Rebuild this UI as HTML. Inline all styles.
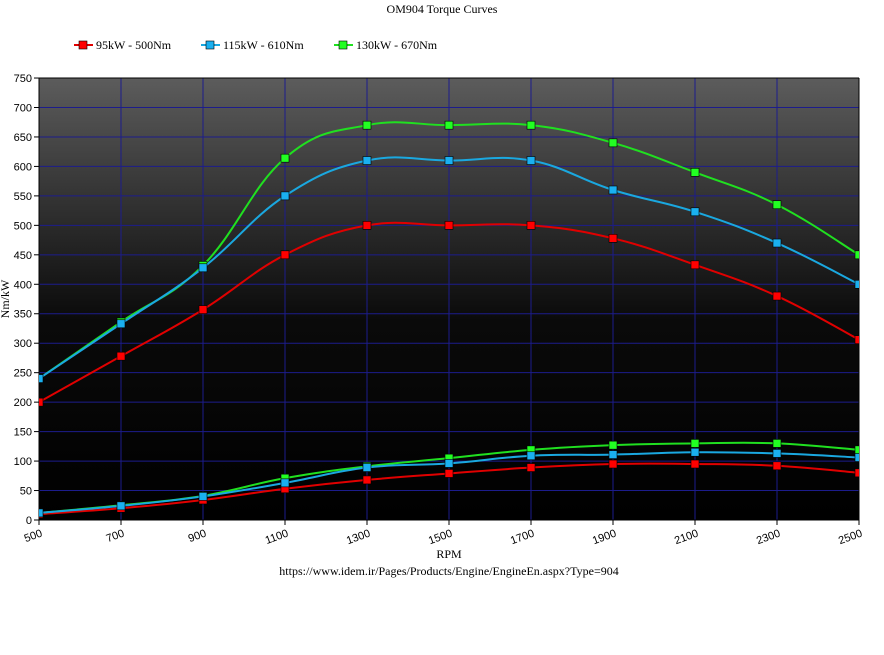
<!DOCTYPE html>
<html><head><meta charset="utf-8"><style>
body{margin:0;background:#fff;width:884px;height:650px;overflow:hidden}
text{font-family:"Liberation Sans","DejaVu Sans",sans-serif;font-size:11px;fill:#000}
.s{font-family:"Liberation Serif",serif;font-size:12px}
</style></head><body>
<svg id="c" width="884" height="650" xmlns="http://www.w3.org/2000/svg">
<defs><linearGradient id="g" x1="0" y1="0" x2="0" y2="1">
<stop offset="0" stop-color="#5c5c5c"/><stop offset="0.55" stop-color="#0a0a0a"/><stop offset="1" stop-color="#000"/></linearGradient>
<clipPath id="cp"><rect x="39" y="78" width="820" height="442"/></clipPath></defs>
<text class="s" x="442" y="13" text-anchor="middle">OM904 Torque Curves</text>
<g class="s">
<line x1="74" y1="45" x2="93" y2="45" stroke="#e00000" stroke-width="2"/><rect x="79" y="41" width="8" height="8" fill="#f00" stroke="#000" stroke-width="0.6"/><text class="s" x="96" y="49">95kW - 500Nm</text>
<line x1="201" y1="45" x2="220" y2="45" stroke="#1aa8e0" stroke-width="2"/><rect x="206" y="41" width="8" height="8" fill="#1ab0f0" stroke="#000" stroke-width="0.6"/><text class="s" x="223" y="49">115kW - 610Nm</text>
<line x1="334" y1="45" x2="353" y2="45" stroke="#20e020" stroke-width="2"/><rect x="339" y="41" width="8" height="8" fill="#2f2" stroke="#000" stroke-width="0.6"/><text class="s" x="356" y="49">130kW - 670Nm</text>
</g>
<rect x="39" y="78" width="820" height="442" fill="url(#g)"/>
<g id="grid"></g>
<g id="series" clip-path="url(#cp)"></g>
<text class="s" x="449" y="558" text-anchor="middle">RPM</text>
<text class="s" x="449" y="575" text-anchor="middle">https://www.idem.ir/Pages/Products/Engine/EngineEn.aspx?Type=904</text>
<text class="s" transform="translate(9,299) rotate(-90)" text-anchor="middle">Nm/kW</text>
</svg>
<script>
const X=r=>39+(r-500)*0.41,Y=v=>520-v*0.5893;
let gh="";
for(let v=0;v<=750;v+=50){const y=Y(v);gh+=`<line x1="39" y1="${y}" x2="859" y2="${y}" stroke="#1c1c8c" stroke-width="1"/><line x1="34" y1="${y}" x2="39" y2="${y}" stroke="#000"/><text x="32" y="${y+4}" text-anchor="end">${v}</text>`;}
for(let r=500;r<=2500;r+=200){const x=X(r);gh+=`<line x1="${x}" y1="78" x2="${x}" y2="520" stroke="#1c1c8c"/><line x1="${x}" y1="520" x2="${x}" y2="525" stroke="#000"/><text transform="translate(${x+4},${536}) rotate(-20)" text-anchor="end">${r}</text>`;}
gh+=`<line x1="39" y1="78" x2="39" y2="520" stroke="#000"/><line x1="39" y1="520" x2="859" y2="520" stroke="#000"/><line x1="39" y1="78" x2="859" y2="78" stroke="#000"/><line x1="859" y1="78" x2="859" y2="520" stroke="#000"/>`;
document.getElementById("grid").innerHTML=gh;
const S=[
["#e00000","#f00",[200,278,357,450,500,500,500,478,433,380,306],[10,20,34,53,68,79,89,95,95,92,80]],
["#20e020","#2f2",[240,336,432,614,670,670,670,640,590,535,450],[12,25,41,71,91,105,119,127,130,130,119]],
["#1aa8e0","#1ab0f0",[240,333,428,550,610,610,610,560,523,470,400],[12,24,40,63,89,96,109,111,115,113,106]]];
function path(vals){const p=vals.map((v,i)=>[X(500+200*i),Y(v)]);let d=`M${p[0]}`;
for(let i=0;i<p.length-1;i++){const a=p[i-1]||p[i],b=p[i],c=p[i+1],e=p[i+2]||c;const t=0.2;
d+=` C${b[0]+(c[0]-a[0])*t},${b[1]+(c[1]-a[1])*t} ${c[0]-(e[0]-b[0])*t},${c[1]-(e[1]-b[1])*t} ${c[0]},${c[1]}`;}return [d,p];}
let sh="";
for(const s of S)for(const vals of [s[2],s[3]]){const [d,p]=path(vals);sh+=`<path d="${d}" fill="none" stroke="${s[0]}" stroke-width="2"/>`;
for(const q of p)sh+=`<rect x="${q[0]-4}" y="${q[1]-4}" width="8" height="8" fill="${s[1]}" stroke="#000" stroke-width="0.6"/>`;}
document.getElementById("series").innerHTML=sh;
</script>
</body></html>
